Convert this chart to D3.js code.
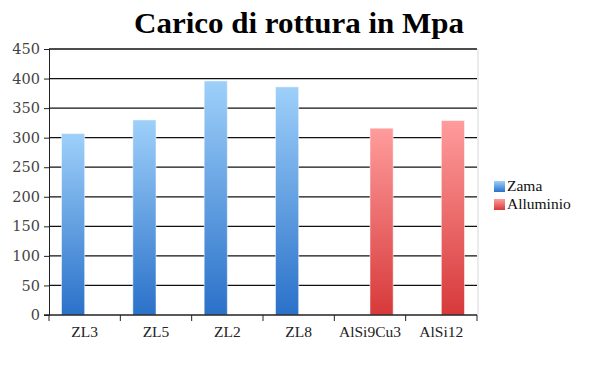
<!DOCTYPE html>
<html>
<head>
<meta charset="utf-8">
<script src="https://cdn.jsdelivr.net/npm/d3@7"></script>
<style>
  body { margin: 0; background: #fff; }
  text { font-family: "Liberation Serif", serif; }
</style>
</head>
<body>
<div id="chart"></div>
<script>
const categories = ['ZL3', 'ZL5', 'ZL2', 'ZL8', 'AlSi9Cu3', 'AlSi12']
const seriesNames = ['Zama', 'Alluminio']
const zama = [307, 330, 396, 386, 0, 0]
const alluminio = [0, 0, 0, 0, 316, 329]
const yTicks = [0, 50, 100, 150, 200, 250, 300, 350, 400, 450]

const width = 607
const height = 376
const margin = {top: 49, right: 130, bottom: 61, left: 49}

const svg = d3.select('#chart').append('svg')
  .attr('width', width)
  .attr('height', height)

const defs = svg.append('defs')
const grads = [
  {id: 'g-zama', top: '#9ed0fa', bottom: '#2a71c9'},
  {id: 'g-all', top: '#ff9c9c', bottom: '#d7393a'}
]
grads.forEach(g => {
  const lg = defs.append('linearGradient')
    .attr('id', g.id)
    .attr('x1', 0).attr('y1', 0).attr('x2', 0).attr('y2', 1)
  lg.append('stop').attr('offset', '0%').attr('stop-color', g.top)
  lg.append('stop').attr('offset', '100%').attr('stop-color', g.bottom)
})
const fills = ['url(#g-zama)', 'url(#g-all)']

const x = d3.scaleBand()
  .domain(categories)
  .range([margin.left, width - margin.right])

const y = d3.scaleLinear()
  .domain([0, 450])
  .range([height - margin.bottom, margin.top])

const x1 = d3.scaleBand()
  .domain(seriesNames)
  .range([0, x.bandwidth()])
  .paddingOuter(0.54)
  .paddingInner(0)

// title
svg.append('text')
  .attr('x', 299)
  .attr('y', 33)
  .attr('text-anchor', 'middle')
  .style('font-size', '30px')
  .style('font-weight', 'bold')
  .attr('fill', '#000')
  .attr('textLength', 330)
  .attr('lengthAdjust', 'spacingAndGlyphs')
  .text('Carico di rottura in Mpa')

// plot border right
svg.append('line')
  .attr('x1', width - margin.right + 1).attr('x2', width - margin.right + 1)
  .attr('y1', margin.top).attr('y2', height - margin.bottom)
  .attr('stroke', '#e4e4e4')
  .attr('stroke-width', 1.5)

// y axis
const yAxis = svg.append('g')
  .attr('transform', `translate(${margin.left},0)`)
  .call(d3.axisLeft(y).tickValues(yTicks).tickSize(5).tickPadding(4))
yAxis.select('.domain').attr('stroke', '#222')
yAxis.selectAll('.tick line').attr('stroke', '#222')
yAxis.selectAll('.tick text')
  .attr('fill', '#444')
  .style('font-family', '"DejaVu Serif", serif')
  .style('font-size', '14.5px')

// gridlines
svg.append('g')
  .selectAll('line')
  .data(yTicks.filter(d => d > 0))
  .join('line')
  .attr('x1', margin.left)
  .attr('x2', width - margin.right)
  .attr('y1', d => y(d))
  .attr('y2', d => y(d))
  .attr('stroke', '#111')
  .attr('stroke-width', 1.3)

// bars
const rows = categories.map((c, i) => ({cat: c, values: [zama[i], alluminio[i]]}))
const group = svg.append('g')
  .selectAll('g')
  .data(rows)
  .join('g')
  .attr('transform', d => `translate(${x(d.cat)},0)`)

group.selectAll('rect')
  .data(d => d.values.map((v, i) => ({name: seriesNames[i], value: v, i})))
  .join('rect')
  .filter(d => d.value > 0)
  .attr('x', d => x1(d.name))
  .attr('width', x1.bandwidth())
  .attr('y', d => y(d.value))
  .attr('height', d => y(0) - y(d.value))
  .attr('fill', d => fills[d.i])
  .attr('stroke', '#ffffff')
  .attr('stroke-opacity', 0.5)
  .attr('stroke-width', 1)

// x axis
const xAxis = svg.append('g')
  .attr('transform', `translate(0,${y(0)})`)
  .call(d3.axisBottom(x).tickSize(0).tickPadding(11))
xAxis.select('.domain').remove()
xAxis.append('line')
  .attr('x1', margin.left - 5).attr('x2', width - margin.right)
  .attr('stroke', '#222').attr('stroke-width', 1.3)
const bounds = categories.map(c => x(c)).concat([x(categories[categories.length - 1]) + x.bandwidth()])
xAxis.selectAll('.bound')
  .data(bounds)
  .join('line')
  .attr('class', 'bound')
  .attr('x1', d => d).attr('x2', d => d)
  .attr('y1', 0).attr('y2', 6)
  .attr('stroke', '#222')
xAxis.selectAll('.tick text')
  .attr('fill', '#222')
  .style('font-size', '15.5px')

// legend
const legend = svg.append('g')
  .attr('transform', 'translate(494,181)')
const li = legend.selectAll('g')
  .data(seriesNames)
  .join('g')
  .attr('transform', (d, i) => `translate(0,${i * 18})`)
li.append('rect')
  .attr('width', 11).attr('height', 11)
  .attr('fill', (d, i) => fills[i])
li.append('text')
  .attr('x', 13).attr('y', 10)
  .style('font-size', '15.5px')
  .attr('fill', '#111')
  .text(d => d)
</script>
</body>
</html>
